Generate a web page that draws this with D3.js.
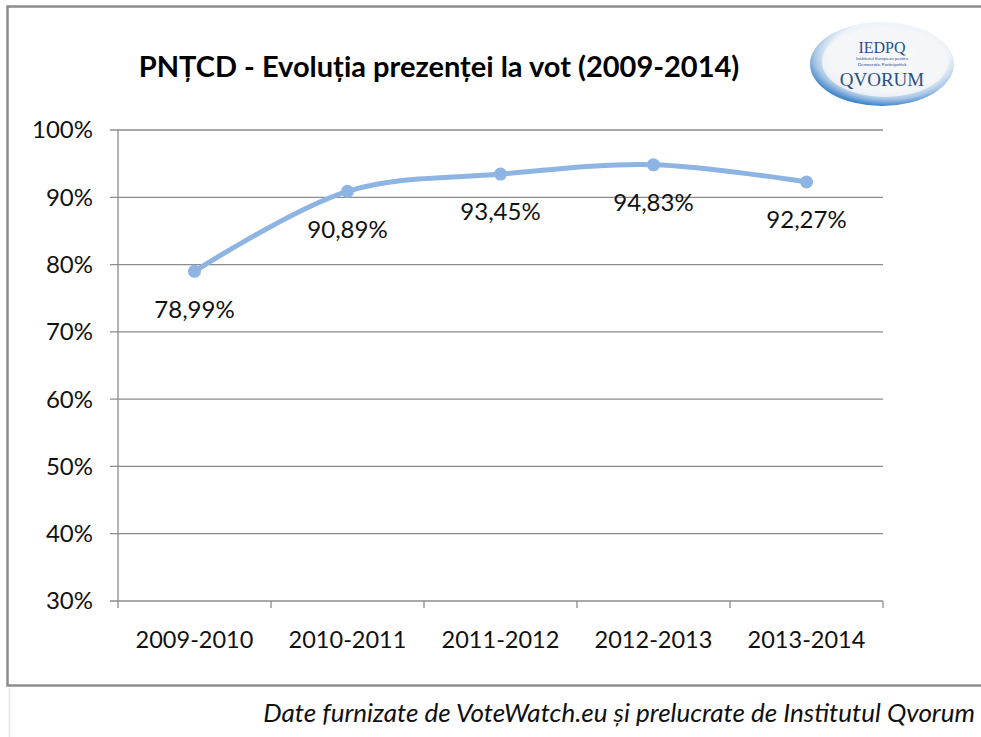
<!DOCTYPE html>
<html>
<head>
<meta charset="utf-8">
<script src="https://cdn.jsdelivr.net/npm/d3@7"></script>
<style>
  body { margin: 0; background: #fff; }
  svg { display: block; font-family: Lato, "Open Sans", sans-serif; }
</style>
</head>
<body>
<div id="chart"></div>
<script>
// Données
const categories = ["2009-2010", "2010-2011", "2011-2012", "2012-2013", "2013-2014"];
const prezenta = [78.99, 90.89, 93.45, 94.83, 92.27];
const etichete = ["78,99%", "90,89%", "93,45%", "94,83%", "92,27%"];
const yTicks = [30, 40, 50, 60, 70, 80, 90, 100];

const titlu = "PNȚCD - Evoluția prezenței la vot (2009-2014)";
const sursa = "Date furnizate de VoteWatch.eu și prelucrate de Institutul Qvorum";

const width = 981, height = 737;
const margin = { left: 118, right: 98, top: 130, bottom: 136 };

const svg = d3.select("#chart").append("svg")
  .attr("width", width)
  .attr("height", height);

// Cadru exterior
svg.append("rect")
  .attr("x", 7.5).attr("y", 6.5)
  .attr("width", 990).attr("height", 679)
  .attr("fill", "none")
  .attr("stroke", "#8c8c8c")
  .attr("stroke-width", 2.5);
svg.append("line")
  .attr("x1", 9.5).attr("x2", 9.5)
  .attr("y1", 688).attr("y2", 737)
  .attr("stroke", "#e6e6e6").attr("stroke-width", 1.5);

// Échelles
const x = d3.scaleBand()
  .domain(categories)
  .range([margin.left, width - margin.right]);

const y = d3.scaleLinear()
  .domain([30, 100])
  .range([height - margin.bottom, margin.top]);

// Grille
svg.append("g")
  .selectAll("line")
  .data(yTicks)
  .enter()
  .append("line")
  .attr("x1", margin.left - 8)
  .attr("x2", width - margin.right)
  .attr("y1", d => y(d))
  .attr("y2", d => y(d))
  .attr("stroke", "#8c8c8c")
  .attr("stroke-width", 1.3);

// Axe Y
svg.append("line")
  .attr("x1", margin.left).attr("x2", margin.left)
  .attr("y1", y(100)).attr("y2", y(30))
  .attr("stroke", "#8c8c8c").attr("stroke-width", 1.3);

svg.append("g")
  .selectAll("text")
  .data(yTicks)
  .enter()
  .append("text")
  .attr("x", margin.left - 25)
  .attr("y", d => y(d))
  .attr("dy", ".35em")
  .attr("text-anchor", "end")
  .attr("font-size", 24)
  .attr("fill", "#111")
  .text(d => d + "%");

// Axe X
const xAxis = svg.append("g")
  .attr("transform", `translate(0,${y(30)})`)
  .call(d3.axisBottom(x).tickSize(0).tickPadding(30));
xAxis.select(".domain").remove();
xAxis.selectAll("text")
  .attr("font-size", 23.5)
  .attr("font-family", "Lato, 'Open Sans', sans-serif")
  .attr("fill", "#111");

const bords = categories.map(c => x(c)).concat([x(categories[categories.length - 1]) + x.bandwidth()]);
svg.append("g")
  .selectAll("line")
  .data(bords)
  .enter()
  .append("line")
  .attr("x1", d => d).attr("x2", d => d)
  .attr("y1", y(30)).attr("y2", y(30) + 7)
  .attr("stroke", "#8c8c8c").attr("stroke-width", 1.3);

// Ligne
const cx = (d, i) => x(categories[i]) + x.bandwidth() / 2;
const line = d3.line()
  .x(cx)
  .y(d => y(d))
  .curve(d3.curveCatmullRom.alpha(0.5));

svg.append("path")
  .datum(prezenta)
  .attr("d", line)
  .attr("fill", "none")
  .attr("stroke", "#8db4e3")
  .attr("stroke-width", 5)
  .attr("stroke-linecap", "round");

svg.append("g")
  .selectAll("circle")
  .data(prezenta)
  .enter()
  .append("circle")
  .attr("cx", cx)
  .attr("cy", d => y(d))
  .attr("r", 6.5)
  .attr("fill", "#8db4e3");

svg.append("g")
  .selectAll("text")
  .data(prezenta)
  .enter()
  .append("text")
  .attr("x", cx)
  .attr("y", d => y(d) + 38)
  .attr("dy", ".35em")
  .attr("text-anchor", "middle")
  .attr("font-size", 24)
  .attr("fill", "#111")
  .text((d, i) => etichete[i]);

// Titre
svg.append("text")
  .attr("x", 439)
  .attr("y", 67)
  .attr("dy", ".35em")
  .attr("text-anchor", "middle")
  .attr("font-size", 29)
  .attr("font-weight", "bold")
  .attr("fill", "#000")
  .text(titlu);

// Source
svg.append("text")
  .attr("x", 975)
  .attr("y", 713)
  .attr("dy", ".35em")
  .attr("text-anchor", "end")
  .attr("font-size", 26)
  .attr("font-style", "italic")
  .attr("fill", "#111")
  .text(sursa);

// Logo IEDPQ
const defs = svg.append("defs");
const grad = defs.append("radialGradient")
  .attr("id", "logoGrad")
  .attr("cx", "55%").attr("cy", "40%").attr("r", "60%");
grad.append("stop").attr("offset", "0%").attr("stop-color", "#ffffff");
grad.append("stop").attr("offset", "70%").attr("stop-color", "#eef3f8");
grad.append("stop").attr("offset", "86%").attr("stop-color", "#a9c7e6");
grad.append("stop").attr("offset", "100%").attr("stop-color", "#3f86c9");

const logo = svg.append("g").attr("transform", "translate(882,64)");
logo.append("ellipse")
  .attr("rx", 72).attr("ry", 42)
  .attr("fill", "url(#logoGrad)");
logo.append("ellipse")
  .attr("cx", 3).attr("cy", -2)
  .attr("rx", 63).attr("ry", 35)
  .attr("fill", "#f4f6f8")
  .attr("opacity", 0.85);
logo.append("text")
  .attr("y", -11)
  .attr("text-anchor", "middle")
  .attr("font-family", "'Liberation Serif', serif")
  .attr("font-size", 16)
  .attr("fill", "#2a4f8a")
  .text("IEDPQ");
logo.append("text")
  .attr("y", -4)
  .attr("text-anchor", "middle")
  .attr("font-size", 4.5)
  .attr("fill", "#2a4f8a")
  .text("Institutul European pentru");
logo.append("text")
  .attr("y", 2)
  .attr("text-anchor", "middle")
  .attr("font-size", 4.5)
  .attr("fill", "#2a4f8a")
  .text("Democrație Participativă");
logo.append("text")
  .attr("y", 22)
  .attr("text-anchor", "middle")
  .attr("font-family", "'Liberation Serif', serif")
  .attr("font-size", 19)
  .attr("fill", "#2a4f8a")
  .text("QVORUM");
</script>
</body>
</html>
